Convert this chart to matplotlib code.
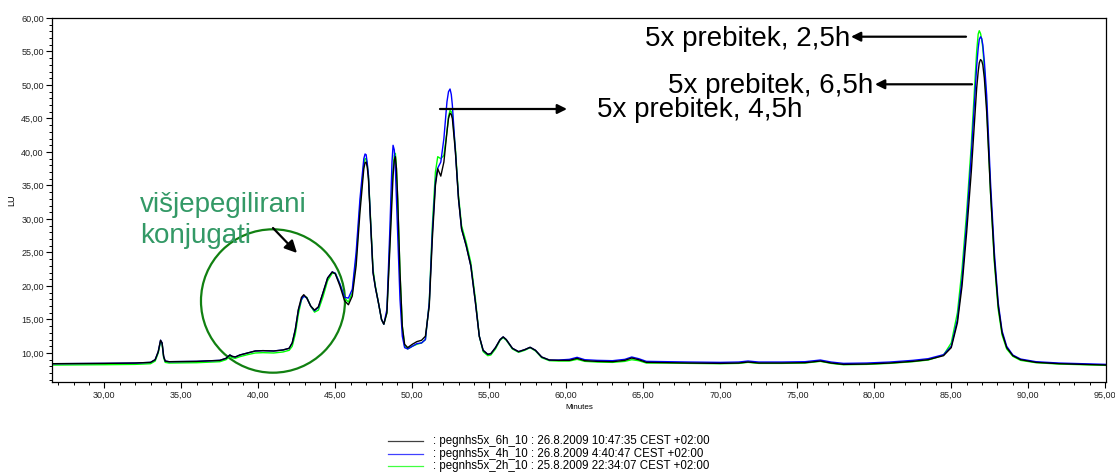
import matplotlib
matplotlib.use("Agg")
import matplotlib.pyplot as plt
from matplotlib.ticker import MultipleLocator, FuncFormatter
from matplotlib.patches import Ellipse, FancyArrowPatch
from matplotlib.lines import Line2D

plt.rcParams['font.family'] = ['Liberation Sans', 'DejaVu Sans']

# ---- data (retention time in minutes, signal in LU) ----
time_min = [26.6, 28.0, 30.0, 32.0, 33.0, 33.3, 33.5, 33.65, 33.75, 33.85,
            33.95, 34.2, 36.0, 37.5, 37.9, 38.15, 38.3, 38.5, 38.8, 39.3,
            39.8, 40.3, 41.0, 41.6, 42.0, 42.2, 42.4, 42.6, 42.8, 42.95,
            43.15, 43.4, 43.65, 43.9, 44.2, 44.5, 44.8, 45.0, 45.3, 45.6,
            45.85, 46.1, 46.35, 46.6, 46.85, 46.93, 47.0, 47.07, 47.15, 47.3,
            47.45, 47.6, 47.8, 48.0, 48.15, 48.35, 48.55, 48.68, 48.75, 48.83,
            48.9, 48.97, 49.05, 49.2, 49.35, 49.5, 49.7, 50.0, 50.3, 50.6,
            50.85, 51.1, 51.3, 51.5, 51.65, 51.85, 52.05, 52.25, 52.35, 52.45,
            52.53, 52.6, 52.8, 53.0, 53.2, 53.5, 53.8, 54.1, 54.35, 54.6,
            54.9, 55.1, 55.4, 55.7, 55.9, 56.1, 56.5, 56.9, 57.3, 57.65,
            58.0, 58.4, 58.9, 59.5, 60.2, 60.7, 61.2, 62.0, 63.0, 63.8,
            64.25, 64.7, 65.2, 66.5, 68.0, 70.0, 71.2, 71.8, 72.5, 74.0,
            75.5, 76.5, 77.2, 78.0, 79.5, 81.0, 82.5, 83.5, 84.0, 84.5,
            85.0, 85.4, 85.7, 86.0, 86.3, 86.55, 86.65, 86.75, 86.82, 86.9,
            86.98, 87.05, 87.15, 87.3, 87.55, 87.8, 88.05, 88.3, 88.6, 89.0,
            89.5, 90.5, 92.0, 93.5, 95.05]

lu_6h = [8.40, 8.42, 8.45, 8.50, 8.60, 9.0, 10.2, 11.9, 11.5, 9.5,
         8.8, 8.7, 8.75, 8.9, 9.2, 9.7, 9.5, 9.4, 9.7, 10.0,
         10.3, 10.35, 10.3, 10.45, 10.7, 11.5, 13.5, 16.5, 18.3, 18.7,
         18.2, 17.0, 16.4, 16.9, 19.0, 21.2, 22.1, 21.8, 20.0, 17.8,
         17.2, 18.5, 23.0, 31.0, 37.5, 38.4, 38.5, 37.8, 36.0, 29.0,
         22.0, 19.8, 17.5, 15.0, 14.3, 16.0, 26.0, 33.0, 36.5, 38.8,
         39.3, 37.5, 33.0, 22.0, 14.0, 11.3, 10.8, 11.3, 11.7, 11.9,
         12.5, 17.0, 27.0, 35.0, 37.5, 36.4, 38.5, 43.0, 45.0, 45.8,
         45.6, 45.0, 40.0, 33.0, 28.5, 26.0, 23.0, 17.5, 12.5, 10.4,
         9.8, 9.9, 10.8, 12.0, 12.4, 12.0, 10.7, 10.2, 10.5, 10.85,
         10.4, 9.4, 8.95, 8.9, 8.9, 9.2, 8.85, 8.75, 8.7, 8.9,
         9.25, 9.0, 8.6, 8.55, 8.5, 8.45, 8.5, 8.65, 8.5, 8.5,
         8.55, 8.8, 8.5, 8.3, 8.35, 8.5, 8.75, 9.0, 9.3, 9.6,
         10.8, 14.5, 20.0, 28.0, 37.0, 46.0, 49.5, 52.0, 53.3, 53.8,
         53.6, 53.0, 51.0, 46.0, 34.0, 24.0, 17.0, 13.0, 10.8, 9.6,
         9.0, 8.6, 8.4, 8.3, 8.2]

lu_4h = [8.40, 8.42, 8.45, 8.50, 8.60, 9.0, 10.2, 11.9, 11.5, 9.5,
         8.8, 8.7, 8.75, 8.9, 9.2, 9.7, 9.5, 9.4, 9.7, 10.0,
         10.3, 10.35, 10.3, 10.45, 10.7, 11.5, 13.5, 16.4, 18.0, 18.5,
         18.2, 17.0, 16.3, 16.8, 19.0, 21.2, 22.1, 21.9, 20.3, 18.3,
         18.2, 19.5, 25.0, 33.0, 39.0, 39.7, 39.6, 38.4, 36.5, 29.0,
         22.0, 19.8, 17.5, 15.0, 14.3, 16.5, 29.0, 38.5, 41.0, 40.3,
         37.5, 33.0, 28.0, 18.0, 12.5, 10.8, 10.6, 11.0, 11.4, 11.5,
         12.0, 17.5, 28.0, 35.5, 37.6, 38.5, 42.0, 47.5, 49.0, 49.4,
         48.6, 47.0, 40.0, 33.0, 28.5, 26.0, 23.0, 17.5, 12.5, 10.4,
         9.8, 9.9, 10.8, 12.0, 12.4, 12.0, 10.7, 10.2, 10.5, 10.85,
         10.4, 9.4, 8.95, 8.95, 9.05, 9.35, 9.0, 8.9, 8.85, 9.05,
         9.4, 9.15, 8.75, 8.7, 8.65, 8.6, 8.65, 8.8, 8.65, 8.65,
         8.7, 8.95, 8.65, 8.45, 8.5, 8.65, 8.9, 9.15, 9.45, 9.75,
         11.0, 15.0, 21.0, 29.5, 39.5, 49.0, 52.8, 55.5, 56.8, 57.2,
         56.9, 56.0, 53.5, 48.5, 35.5, 25.0, 17.5, 13.3, 11.0, 9.7,
         9.1, 8.7, 8.5, 8.4, 8.3]

lu_2h = [8.20, 8.22, 8.25, 8.30, 8.40, 8.8, 10.0, 11.7, 11.3, 9.3,
         8.6, 8.5, 8.55, 8.7, 9.0, 9.5, 9.3, 9.2, 9.45, 9.75,
         10.0, 10.05, 10.0, 10.15, 10.4, 11.0, 12.8, 15.8, 17.9, 18.5,
         18.3, 17.0, 16.1, 16.4, 18.4, 20.8, 21.9, 21.9, 20.3, 18.2,
         17.6, 19.0, 24.0, 32.0, 38.2, 39.0, 39.0, 38.2, 36.5, 29.5,
         22.5, 20.0, 17.5, 15.0, 14.3, 16.0, 27.0, 34.5, 37.5, 39.5,
         39.8, 37.5, 33.0, 22.0, 14.0, 11.0, 10.6, 11.0, 11.3, 11.5,
         12.0, 17.5, 29.0, 37.0, 39.3, 39.0, 39.5, 43.0, 45.3, 46.2,
         46.0, 45.5, 40.5, 33.5, 29.0, 26.5, 23.5, 18.0, 12.5, 10.2,
         9.6, 9.7, 10.6, 11.9, 12.3, 11.9, 10.6, 10.1, 10.4, 10.8,
         10.3, 9.3, 8.85, 8.8, 8.8, 9.05, 8.75, 8.65, 8.6, 8.75,
         9.0, 8.85, 8.5, 8.5, 8.45, 8.4, 8.45, 8.6, 8.45, 8.45,
         8.5, 8.75, 8.45, 8.25, 8.3, 8.45, 8.7, 8.95, 9.3, 9.7,
         11.5, 16.0, 22.5, 31.0, 41.0, 51.0, 55.0, 57.6, 58.1, 57.7,
         56.8, 55.5, 52.5, 47.0, 34.0, 23.5, 16.5, 12.7, 10.6, 9.5,
         8.9, 8.55, 8.35, 8.25, 8.15]

series_labels = [": pegnhs5x_6h_10 : 26.8.2009 10:47:35 CEST +02:00",
                 ": pegnhs5x_4h_10 : 26.8.2009 4:40:47 CEST +02:00",
                 ": pegnhs5x_2h_10 : 25.8.2009 22:34:07 CEST +02:00"]
series_colors = ['black', '#0000ff', '#00ff00']

W, H = 1115, 473
fig = plt.figure(figsize=(W / 100, H / 100), dpi=100)
ax = fig.add_axes([52 / W, 1 - 382 / H, (1106 - 52) / W, (382 - 18) / H])

ax.plot(time_min, lu_2h, color=series_colors[2], lw=1.0)
ax.plot(time_min, lu_4h, color=series_colors[1], lw=1.0)
ax.plot(time_min, lu_6h, color=series_colors[0], lw=1.0)

ax.set_xlim(26.6, 95.05)
ax.set_ylim(5.67, 60.0)

fmt = FuncFormatter(lambda v, p: f"{v:.2f}".replace('.', ','))
ax.xaxis.set_major_locator(MultipleLocator(5))
ax.xaxis.set_minor_locator(MultipleLocator(1))
ax.yaxis.set_major_locator(MultipleLocator(5))
ax.yaxis.set_minor_locator(MultipleLocator(1))
ax.xaxis.set_major_formatter(fmt)
ax.yaxis.set_major_formatter(fmt)
ax.tick_params(axis='both', which='major', length=4, width=0.8, labelsize=6.5,
               pad=2, colors='black', labelcolor='#222222')
ax.tick_params(axis='both', which='minor', length=2.2, width=0.7)
ax.tick_params(top=False, right=False, which='both')
for s in ax.spines.values():
    s.set_linewidth(0.9)

fig.text(12 / W, 1 - 200 / H, "LU", rotation=90, ha='center', va='center', fontsize=6.5)
fig.text(579 / W, 1 - 407 / H, "Minutes", ha='center', va='center', fontsize=5.8)

# green circle and its annotation
ax.add_patch(Ellipse((40.95, 17.76), 9.35, 21.4, fill=False,
                     edgecolor='#118011', lw=1.6))
green_txt = '#339966'
fig.text(140 / W, 1 - 212 / H, "višjepegilirani", color=green_txt,
         fontsize=20, ha='left', va='baseline')
fig.text(140 / W, 1 - 243 / H, "konjugati", color=green_txt,
         fontsize=20, ha='left', va='baseline')

def arrow(x0, y0, x1, y1, ms=14):
    fig.add_artist(FancyArrowPatch(
        (x0 / W, 1 - y0 / H), (x1 / W, 1 - y1 / H),
        transform=fig.transFigure, arrowstyle='-|>', mutation_scale=ms,
        color='black', lw=1.6, shrinkA=0, shrinkB=0))

arrow(273, 228, 297, 253, ms=18)

fig.text(645 / W, 1 - 46 / H, "5x prebitek, 2,5h", fontsize=20, ha='left', va='baseline')
arrow(966, 36.7, 851, 36.7)
fig.text(668 / W, 1 - 92.7 / H, "5x prebitek, 6,5h", fontsize=20, ha='left', va='baseline')
arrow(972, 84.3, 875, 84.3)
fig.text(597 / W, 1 - 116.7 / H, "5x prebitek, 4,5h", fontsize=20, ha='left', va='baseline')
arrow(440, 109, 567, 109)

# legend below the chart
rows_y = [441, 453.5, 466]
for lab, col, yy in zip(series_labels, series_colors, rows_y):
    fig.add_artist(Line2D([388 / W, 423 / W], [1 - yy / H, 1 - yy / H],
                          transform=fig.transFigure, color=col, lw=0.9, alpha=0.75))
    fig.text(433 / W, 1 - yy / H, lab, fontsize=8.3, ha='left', va='center')

fig.savefig("out.png", dpi=100)
